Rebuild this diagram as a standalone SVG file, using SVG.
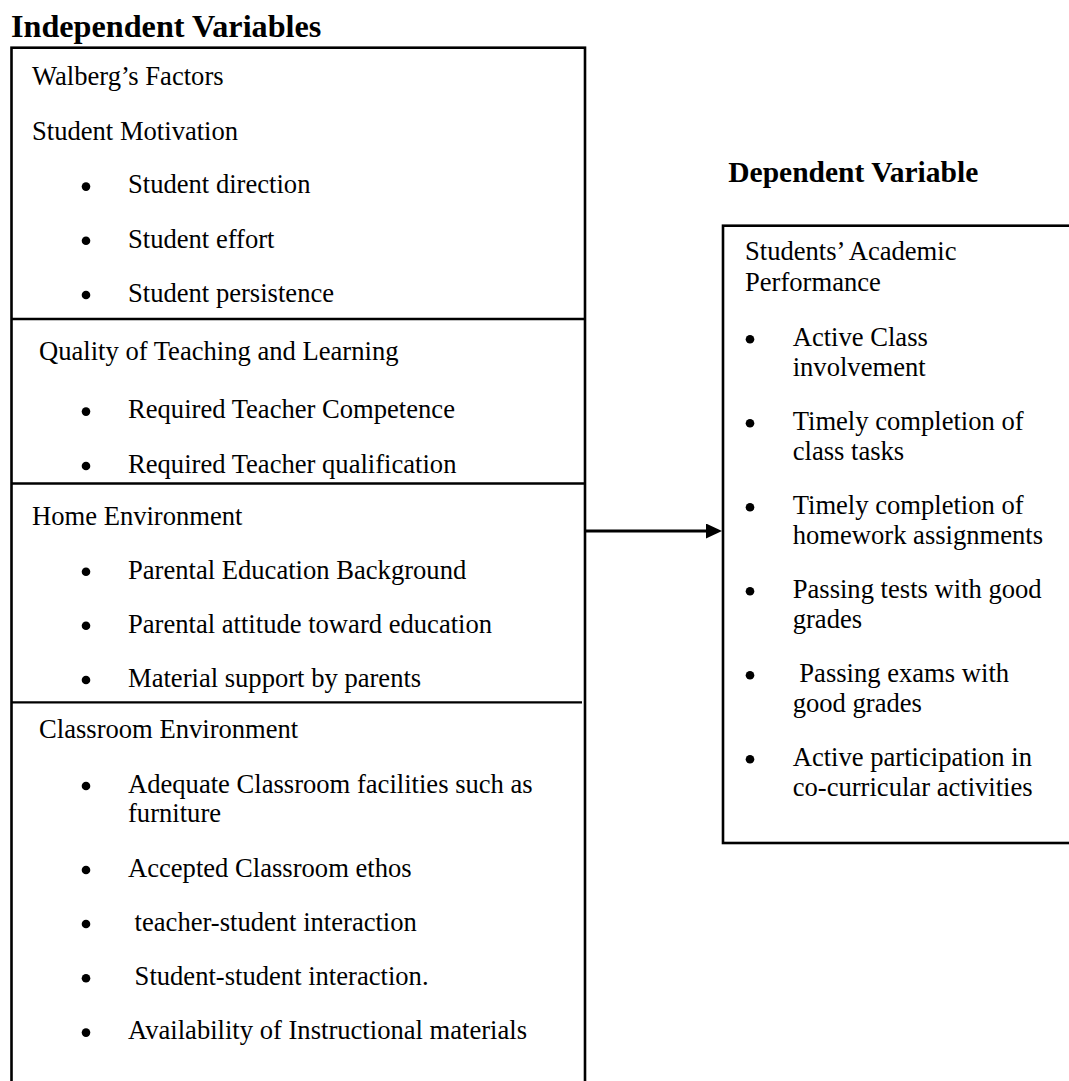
<svg xmlns="http://www.w3.org/2000/svg" width="1069" height="1081" viewBox="0 0 1069 1081">
  <style>
    text { font-family: "Liberation Serif", "Times New Roman", serif; fill: #000; }
    .t { font-size: 26.6px; }
    .h1 { font-size: 32.2px; font-weight: bold; }
    .h2 { font-size: 29.5px; font-weight: bold; }
    .box { fill: none; stroke: #000; stroke-width: 2.6; }
    .div { stroke: #000; stroke-width: 2.3; }
    .conn { stroke: #000; stroke-width: 3; fill: none; }
  </style>
  <defs>
    <symbol id="b" overflow="visible"><circle cx="0" cy="0" r="4.3" fill="#000"/></symbol>
    <marker id="arrow" markerUnits="userSpaceOnUse" markerWidth="16" markerHeight="15" refX="2" refY="7.5" orient="auto">
      <path d="M0,0 L16,7.5 L0,15 z" fill="#000"/>
    </marker>
  </defs>
  <rect width="1069" height="1081" fill="#fff"/>

  <g id="independent-title">
    <text class="h1" x="11" y="37">Independent Variables</text>
  </g>

  <g id="independent-variables">
    <rect class="box" x="11.5" y="47.7" width="573.5" height="1100"/>
    <g id="student-motivation">
      <text class="t" x="32" y="85">Walberg’s Factors</text>
      <text class="t" x="32" y="140">Student Motivation</text>
      <use href="#b" x="86" y="186.6"/><text class="t" x="128" y="193.3">Student direction</text>
      <use href="#b" x="86" y="240.8"/><text class="t" x="128" y="247.5">Student effort</text>
      <use href="#b" x="86" y="295"/><text class="t" x="128" y="301.7">Student persistence</text>
      <line class="div" x1="11.5" y1="319" x2="585" y2="319"/>
    </g>
    <g id="quality-teaching">
      <text class="t" x="39" y="360">Quality of Teaching and Learning</text>
      <use href="#b" x="86" y="411.6"/><text class="t" x="128" y="418.3">Required Teacher Competence</text>
      <use href="#b" x="86" y="466"/><text class="t" x="128" y="472.7">Required Teacher qualification</text>
      <line class="div" x1="11.5" y1="483.5" x2="585" y2="483.5"/>
    </g>
    <g id="home-environment">
      <text class="t" x="32" y="525">Home Environment</text>
      <use href="#b" x="86" y="571.8"/><text class="t" x="128" y="578.5">Parental Education Background</text>
      <use href="#b" x="86" y="625.8"/><text class="t" x="128" y="632.5">Parental attitude toward education</text>
      <use href="#b" x="86" y="680"/><text class="t" x="128" y="686.7">Material support by parents</text>
      <line class="div" x1="11.5" y1="702.3" x2="582" y2="702.3"/>
    </g>
    <g id="classroom-environment">
      <text class="t" x="39" y="738.3">Classroom Environment</text>
      <use href="#b" x="86" y="786"/><text class="t" x="128" y="792.7">Adequate Classroom facilities such as</text>
      <text class="t" x="128" y="821.7">furniture</text>
      <use href="#b" x="86" y="870"/><text class="t" x="128" y="876.7">Accepted Classroom ethos</text>
      <use href="#b" x="86" y="924"/><text class="t" x="134.6" y="930.7">teacher-student interaction</text>
      <use href="#b" x="86" y="978.3"/><text class="t" x="134.6" y="985">Student-student interaction.</text>
      <use href="#b" x="86" y="1032.6"/><text class="t" x="128" y="1039.3">Availability of Instructional materials</text>
    </g>
  </g>

  <g id="dependent-title">
    <text class="h2" x="728.3" y="181.7">Dependent Variable</text>
  </g>

  <g id="dependent-variable">
    <rect class="box" x="723" y="225.7" width="420" height="617.3"/>
    <text class="t" x="745" y="260">Students’ Academic</text>
    <text class="t" x="745" y="291">Performance</text>
    <use href="#b" x="750" y="339.3"/><text class="t" x="792.7" y="346">Active Class</text>
    <text class="t" x="792.7" y="376">involvement</text>
    <use href="#b" x="750" y="423.3"/><text class="t" x="792.7" y="430">Timely completion of</text>
    <text class="t" x="792.7" y="460">class tasks</text>
    <use href="#b" x="750" y="507.3"/><text class="t" x="792.7" y="514">Timely completion of</text>
    <text class="t" x="792.7" y="544">homework assignments</text>
    <use href="#b" x="750" y="591.3"/><text class="t" x="792.7" y="598">Passing tests with good</text>
    <text class="t" x="792.7" y="628">grades</text>
    <use href="#b" x="750" y="675.3"/><text class="t" x="799.3" y="682">Passing exams with</text>
    <text class="t" x="792.7" y="712">good grades</text>
    <use href="#b" x="750" y="759.3"/><text class="t" x="792.7" y="766">Active participation in</text>
    <text class="t" x="792.7" y="796">co-curricular activities</text>
  </g>

  <g id="connectors">
    <line class="conn" x1="586" y1="531" x2="708" y2="531" marker-end="url(#arrow)"/>
  </g>
</svg>
